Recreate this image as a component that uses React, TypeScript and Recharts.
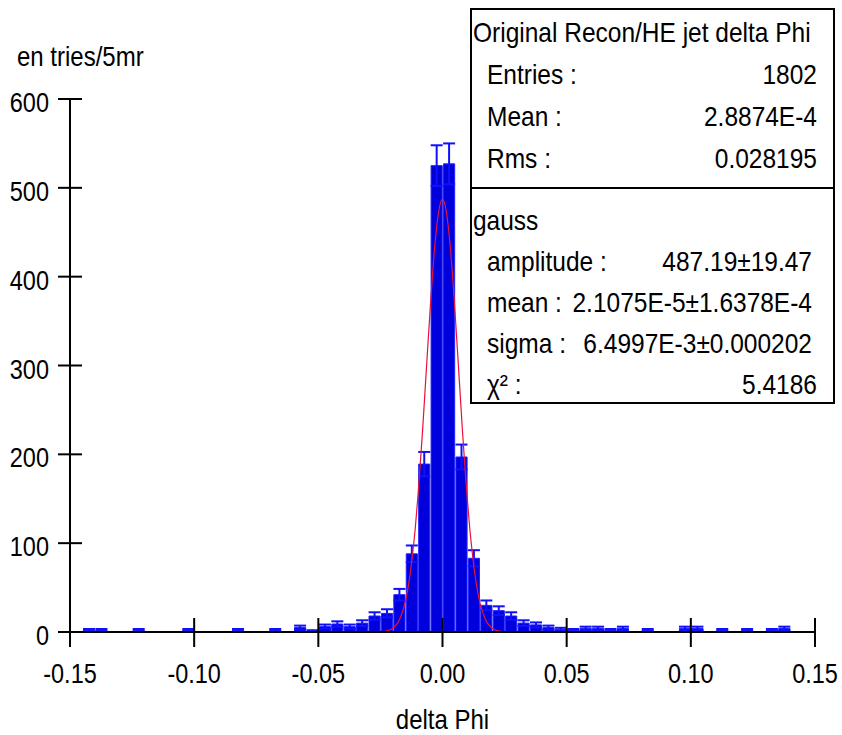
import React from 'react';
import { ComposedChart, Bar, Line, XAxis, YAxis, ErrorBar } from 'recharts';

const BIN_START = -0.15;
const BIN_WIDTH = 0.005;

const binCounts = [
  0, 2, 2, 0, 0, 2, 0, 0, 0, 2,
  0, 0, 0, 2, 0, 0, 2, 0, 5, 1,
  6, 9, 6, 10, 18, 21, 42, 88, 189, 525,
  527, 197, 83, 30, 24, 18, 10, 8, 5, 3,
  2, 4, 4, 2, 4, 0, 2, 0, 0, 4,
  4, 0, 2, 0, 2, 0, 2, 4, 0, 0,
];

// half height of the error bars
const binErrors = [
  0, 1.4, 1.4, 0, 0, 1.4, 0, 0, 0, 1.4,
  0, 0, 0, 1.4, 0, 0, 1.4, 0, 2.2, 1,
  2.4, 3, 2.4, 3.2, 4.2, 4.6, 6.5, 9.4, 13.7, 22.9,
  23, 14, 9.1, 5.5, 4.9, 4.2, 3.2, 2.8, 2.2, 1.7,
  1.4, 2, 2, 1.4, 2, 0, 1.4, 0, 0, 2,
  2, 0, 1.4, 0, 1.4, 0, 1.4, 2, 0, 0,
];

// gauss fit curve
const fitX = [
  -0.15, -0.03, -0.026, -0.024, -0.022, -0.02, -0.019, -0.018, -0.017, -0.016,
  -0.015, -0.014, -0.013, -0.012, -0.011, -0.01, -0.009, -0.008, -0.007, -0.006,
  -0.005, -0.004, -0.003, -0.002, -0.001, 0, 0.001, 0.002, 0.003, 0.004,
  0.005, 0.006, 0.007, 0.008, 0.009, 0.01, 0.011, 0.012, 0.013, 0.014,
  0.015, 0.016, 0.017, 0.018, 0.019, 0.02, 0.022, 0.024, 0.026, 0.03, 0.15,
];
const fitY = [
  0, 0, 0.15, 0.5, 1.6, 4.3, 6.8, 10.5, 16, 24,
  34, 48, 66, 89, 116, 149, 187, 228, 273, 318,
  362, 403, 438, 464, 481, 487, 481, 464, 438, 403,
  362, 318, 273, 228, 187, 149, 116, 89, 66, 48,
  34, 24, 16, 10.5, 6.8, 4.3, 1.6, 0.5, 0.15, 0, 0,
];

const xTicks = [-0.15, -0.1, -0.05, 0, 0.05, 0.1, 0.15];
const yTicks = [0, 100, 200, 300, 400, 500, 600];

const statsRows = [
  ['Entries :', '1802'],
  ['Mean :', '2.8874E-4'],
  ['Rms :', '0.028195'],
];
const fitRows = [
  ['amplitude :', '487.19±19.47'],
  ['mean :', '2.1075E-5±1.6378E-4'],
  ['sigma :', '6.4997E-3±0.000202'],
];

const histData = binCounts.map((count, i) => ({
  x: BIN_START + BIN_WIDTH * (i + 0.5),
  count,
  err: binErrors[i],
}));
const fitData = fitX.map((x, i) => ({ x, fit: fitY[i] }));

const FONT = '"Liberation Sans", Arial, Helvetica, sans-serif';
const STRETCH = 1.14;

const Txt = ({ x, y, anchor = 'start', size = 24.5, children }: any) => (
  <text
    transform={`translate(${x} ${y}) scale(1 ${STRETCH})`}
    textAnchor={anchor}
    fontSize={size}
    fontFamily={FONT}
    fill="#000"
  >
    {children}
  </text>
);

// bottom ticks: outward part drawn by recharts, inward part here
const XTick = (p: any) => {
  const axisY = p.y - 15 - 4;
  return (
    <g>
      <line x1={p.x} x2={p.x} y1={axisY} y2={axisY - 14} stroke="#000" strokeWidth={2} />
      <Txt x={p.x} y={p.y + 32} anchor="middle" size={23.5}>
        {Number(p.payload.value).toFixed(2)}
      </Txt>
    </g>
  );
};

const YTick = (p: any) => {
  const axisX = p.x + 12 + 9;
  return (
    <g>
      <line x1={axisX} x2={axisX + 12} y1={p.y} y2={p.y} stroke="#000" strokeWidth={2} />
      <Txt x={p.x} y={p.y + 13} anchor="end" size={23.5}>
        {p.payload.value}
      </Txt>
    </g>
  );
};

const XTitle = (p: any) => {
  const vb = p.viewBox;
  return (
    <Txt x={vb.x + vb.width / 2} y={vb.y + vb.height - 6} anchor="middle" size={24}>
      delta Phi
    </Txt>
  );
};

export default function App() {
  return (
    <div style={{ position: 'relative', width: 842, height: 735, background: '#fff' }}>
      <style>{'body{margin:0}'}</style>
      <ComposedChart
        width={842}
        height={735}
        data={histData}
        margin={{ top: 99, right: 27, bottom: 0, left: 0 }}
      >
        <XAxis
          xAxisId="bins"
          dataKey="x"
          type="number"
          domain={[-0.15, 0.15]}
          ticks={xTicks}
          interval={0}
          allowDataOverflow
          height={103}
          tickSize={15}
          tickMargin={4}
          axisLine={{ stroke: '#000', strokeWidth: 2 }}
          tickLine={{ stroke: '#000', strokeWidth: 2 }}
          tick={(p: any) => <XTick {...p} />}
          label={{ position: 'insideBottom', content: (p: any) => <XTitle {...p} /> }}
        />
        <XAxis xAxisId="fit" dataKey="x" type="number" domain={[-0.15, 0.15]} allowDataOverflow hide />
        <YAxis
          type="number"
          domain={[0, 600]}
          ticks={yTicks}
          interval={0}
          allowDataOverflow
          width={70}
          tickSize={12}
          tickMargin={9}
          axisLine={{ stroke: '#000', strokeWidth: 2 }}
          tickLine={{ stroke: '#000', strokeWidth: 2 }}
          tick={(p: any) => <YTick {...p} />}
        />
        <Bar
          xAxisId="bins"
          dataKey="count"
          barSize={12.42}
          fill="#0000dc"
          stroke="#2222ff"
          strokeWidth={1}
          isAnimationActive={false}
        >
          <ErrorBar dataKey="err" width={6} stroke="#1010ff" strokeWidth={2} isAnimationActive={false} />
        </Bar>
        <Line
          xAxisId="fit"
          data={fitData}
          dataKey="fit"
          type="monotone"
          stroke="#e8113a"
          strokeWidth={1.2}
          dot={false}
          activeDot={false}
          isAnimationActive={false}
        />
      </ComposedChart>

      <svg
        width={842}
        height={735}
        style={{ position: 'absolute', left: 0, top: 0, pointerEvents: 'none' }}
      >
        <Txt x={17} y={66} size={24}>en tries/5mr</Txt>

        <rect x={471} y={9} width={363} height={394} fill="none" stroke="#000" strokeWidth={2} />
        <line x1={471} x2={834} y1={188} y2={188} stroke="#000" strokeWidth={2} />

        <Txt x={473} y={42}>Original Recon/HE jet delta Phi</Txt>
        {statsRows.map(([k, v], i) => (
          <g key={k}>
            <Txt x={487} y={84 + 42 * i}>{k}</Txt>
            <Txt x={817} y={84 + 42 * i} anchor="end">{v}</Txt>
          </g>
        ))}

        <Txt x={473} y={230}>gauss</Txt>
        {fitRows.map(([k, v], i) => (
          <g key={k}>
            <Txt x={487} y={271 + 41 * i}>{k}</Txt>
            <Txt x={812} y={271 + 41 * i} anchor="end">{v}</Txt>
          </g>
        ))}
        <Txt x={487} y={394}>χ² :</Txt>
        <Txt x={817} y={394} anchor="end">5.4186</Txt>
      </svg>
    </div>
  );
}
